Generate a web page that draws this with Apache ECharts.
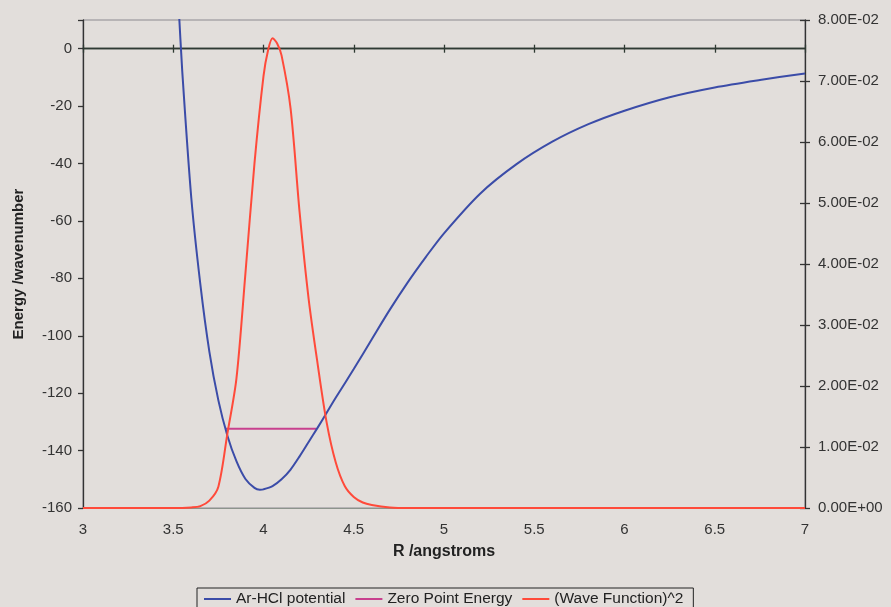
<!DOCTYPE html>
<html>
<head>
<meta charset="utf-8">
<script src="https://cdn.jsdelivr.net/npm/echarts@6/dist/echarts.min.js"></script>
<style>
html,body{margin:0;padding:0;background:#e2dedb;}
#chart{width:891px;height:607px;}
</style>
</head>
<body>
<div id="chart"></div>
<script>
// Ar-HCl potential (R in angstroms, energy in wavenumber)
const potentialR = [3.50,3.53,3.55,3.60,3.65,3.70,3.75,3.80,3.85,3.90,3.95,3.98,4.00,4.05,4.10,4.15,4.20,4.25,4.30,4.35,4.40,4.50,4.60,4.70,4.80,4.90,5.00,5.20,5.40,5.60,5.80,6.00,6.25,6.50,6.75,7.00];
const potentialE = [45,14.5,-8,-52,-82,-105.5,-122.5,-134.8,-143.7,-149.9,-153.0,-153.6,-153.5,-152.4,-150.0,-146.6,-142.0,-137.0,-132.0,-126.8,-121.6,-111.6,-101.2,-90.9,-81.3,-72.5,-64.3,-50.5,-40.3,-32.4,-26.3,-21.6,-16.9,-13.5,-10.9,-8.6];
// Zero point energy
const zpeR = [3.787, 4.295];
const zpeE = [-132.4, -132.4];
// (Wave Function)^2
const waveR = [3.00,3.50,3.60,3.65,3.70,3.75,3.80,3.85,3.90,3.95,4.00,4.025,4.05,4.075,4.10,4.15,4.20,4.25,4.30,4.35,4.40,4.45,4.50,4.55,4.60,4.70,4.80,7.00];
const waveW = [0,0,0.0001,0.0003,0.0012,0.0035,0.0122,0.0212,0.0385,0.0565,0.0708,0.0750,0.0770,0.0762,0.0742,0.0655,0.0485,0.0343,0.0236,0.0140,0.0075,0.0036,0.0018,0.0009,0.0005,0.0001,0,0];
const legendNames = ['Ar-HCl potential','Zero Point Energy','(Wave Function)^2'];

const zip = (a,b) => a.map((v,i)=>[v,b[i]]);
const font = 'Arial, "Liberation Sans", sans-serif';
const txt = '#333333';
function sci(v){
  const s = Number(v).toExponential(2);
  let [m,e] = s.split('e');
  const sign = e[0]==='-' ? '-' : '+';
  e = e.replace(/^[+-]/,'');
  if (e.length<2) e = '0'+e;
  return m+'E'+sign+e;
}
const chart = echarts.init(document.getElementById('chart'));
const xBase = {type:'value',min:3,max:7,interval:0.5,splitLine:{show:false}};
const yRight = {type:'value',min:0,max:0.08,interval:0.01,position:'right',splitLine:{show:false}};
chart.setOption({
  backgroundColor:'#e2dedb',
  animation:false,
  grid:{left:83,right:86,top:20,bottom:99,show:true,borderColor:'#8c8a90',borderWidth:1,backgroundColor:'transparent'},
  legend:{
    data:legendNames,left:197,top:588,padding:[3,10,3,7],itemGap:10,itemWidth:27,itemHeight:2,icon:'rect',
    borderColor:'#222',borderWidth:1,
    textStyle:{fontFamily:font,fontSize:15.5,color:'#222'}
  },
  xAxis:[
    Object.assign({},xBase,{position:'bottom',axisLine:{onZero:false,lineStyle:{color:'#8c948c',width:1}},axisTick:{show:false},
      axisLabel:{margin:14,fontFamily:font,fontSize:15,color:txt},
      name:'R /angstroms',nameLocation:'middle',nameGap:36,nameTextStyle:{fontFamily:font,fontSize:16,fontWeight:'bold',color:'#222'}}),
    Object.assign({},xBase,{position:'bottom',axisLine:{onZero:true,onZeroAxisIndex:0,lineStyle:{color:'#2e3a33',width:1.3}},
      axisTick:{show:true,inside:true,length:4,lineStyle:{color:'#2e3a33',width:1.3}},axisLabel:{show:false}}),
    Object.assign({},xBase,{position:'bottom',axisLine:{onZero:true,onZeroAxisIndex:0,lineStyle:{color:'#2e3a33',width:1.3}},
      axisTick:{show:true,inside:false,length:4,lineStyle:{color:'#2e3a33',width:1.3}},axisLabel:{show:false}})
  ],
  yAxis:[
    {type:'value',min:-160,max:10,interval:20,position:'left',splitLine:{show:false},
      axisLine:{show:true,lineStyle:{color:'#333',width:1.3}},
      axisTick:{show:true,length:5,lineStyle:{color:'#333',width:1.3}},
      axisLabel:{margin:11,fontFamily:font,fontSize:15,color:txt,formatter:v=> v>0 ? '' : String(v)},
      name:'Energy /wavenumber',nameLocation:'middle',nameGap:57,nameTextStyle:{fontFamily:font,fontSize:15,fontWeight:'bold',color:'#222'}},
    Object.assign({},yRight,{axisLine:{show:true,lineStyle:{color:'#333',width:1.3}},
      axisTick:{show:true,length:5,lineStyle:{color:'#333',width:1.3}},
      axisLabel:{margin:13,fontFamily:font,fontSize:15,color:txt,formatter:sci}}),
    Object.assign({},yRight,{axisLine:{show:false},
      axisTick:{show:true,inside:true,length:5,lineStyle:{color:'#333',width:1.3}},axisLabel:{show:false}})
  ],
  series:[
    {name:legendNames[0],type:'line',xAxisIndex:0,yAxisIndex:0,data:zip(potentialR,potentialE),smooth:0.3,
      showSymbol:false,symbol:'none',lineStyle:{color:'#3b4ca8',width:2},itemStyle:{color:'#3b4ca8'},z:3},
    {name:legendNames[1],type:'line',xAxisIndex:0,yAxisIndex:0,data:zip(zpeR,zpeE),
      showSymbol:false,symbol:'none',lineStyle:{color:'#c8408e',width:2},itemStyle:{color:'#c8408e'},z:2},
    {name:legendNames[2],type:'line',xAxisIndex:0,yAxisIndex:1,data:zip(waveR,waveW),smooth:0.3,
      showSymbol:false,symbol:'none',lineStyle:{color:'#ff4a3a',width:2},itemStyle:{color:'#ff4a3a'},z:4}
  ]
});
</script>
</body>
</html>
